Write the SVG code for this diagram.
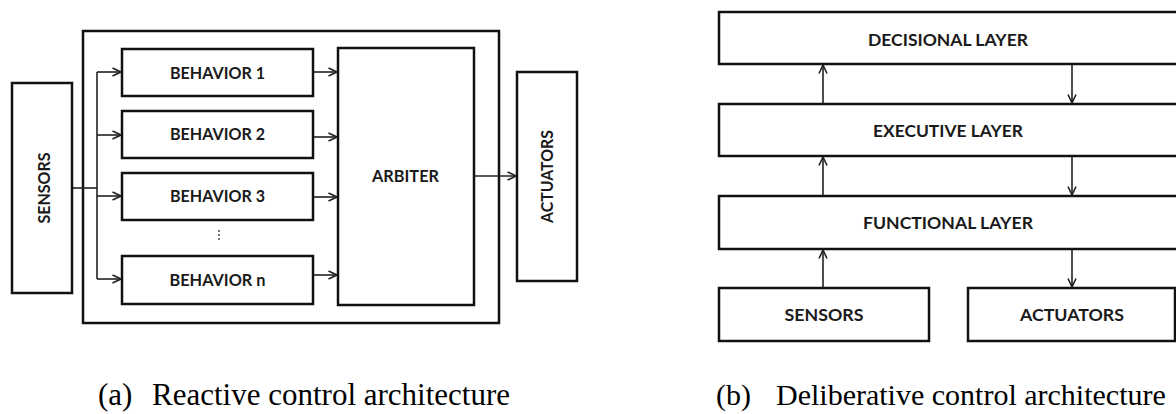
<svg xmlns="http://www.w3.org/2000/svg" width="1176" height="414" viewBox="0 0 1176 414">
<defs>
<style>
.box{fill:#fff;stroke:#111;stroke-width:2.5}
.lbl{font-family:Lato,"Liberation Sans",sans-serif;font-weight:bold;font-size:17.5px;fill:#1a1a1a;text-anchor:middle}
.cap{font-family:"Liberation Serif",serif;font-size:31px;fill:#000}
.con{fill:none;stroke:#222;stroke-width:1.6}
</style>
<marker id="ah" viewBox="0 0 10 10" refX="9.5" refY="5" markerWidth="10" markerHeight="10" markerUnits="userSpaceOnUse" orient="auto">
<path d="M1,1 L9.5,5 L1,9" fill="none" stroke="#222" stroke-width="1.6"/>
</marker>
</defs>
<rect width="1176" height="414" fill="#fff"/>

<g id="outer-reactive"><rect class="box" x="83" y="31" width="416" height="292"/></g>

<g id="connectors">
<path class="con" d="M72,188 H97"/>
<path class="con" d="M97,72 V279"/>
<path class="con" d="M97,72 H121" marker-end="url(#ah)"/>
<path class="con" d="M97,135 H121" marker-end="url(#ah)"/>
<path class="con" d="M97,196 H121" marker-end="url(#ah)"/>
<path class="con" d="M97,279 H121" marker-end="url(#ah)"/>
<path class="con" d="M313,72 H337" marker-end="url(#ah)"/>
<path class="con" d="M313,137 H337" marker-end="url(#ah)"/>
<path class="con" d="M313,197 H337" marker-end="url(#ah)"/>
<path class="con" d="M313,275 H337" marker-end="url(#ah)"/>
<path class="con" d="M474,176 H516" marker-end="url(#ah)"/>
<path class="con" d="M823,104 V65" marker-end="url(#ah)"/>
<path class="con" d="M823,196 V157" marker-end="url(#ah)"/>
<path class="con" d="M823,288 V250" marker-end="url(#ah)"/>
<path class="con" d="M1072,64 V103" marker-end="url(#ah)"/>
<path class="con" d="M1072,156 V195" marker-end="url(#ah)"/>
<path class="con" d="M1072,249 V287" marker-end="url(#ah)"/>
</g>

<g id="sensors-a"><rect class="box" x="12" y="83" width="60" height="210"/>
<text class="lbl" transform="translate(50,188) rotate(-90)" textLength="71" lengthAdjust="spacingAndGlyphs">SENSORS</text></g>

<g id="behavior1"><rect class="box" x="122" y="49" width="191" height="47"/>
<text class="lbl" x="217.5" y="79" textLength="95" lengthAdjust="spacingAndGlyphs">BEHAVIOR 1</text></g>
<g id="behavior2"><rect class="box" x="122" y="111" width="191" height="47"/>
<text class="lbl" x="217.5" y="140" textLength="95" lengthAdjust="spacingAndGlyphs">BEHAVIOR 2</text></g>
<g id="behavior3"><rect class="box" x="122" y="173" width="191" height="47"/>
<text class="lbl" x="217.5" y="202" textLength="95" lengthAdjust="spacingAndGlyphs">BEHAVIOR 3</text></g>
<g id="ellipsis" fill="#333"><circle cx="219" cy="231" r="0.9"/><circle cx="219" cy="235" r="0.9"/><circle cx="219" cy="239" r="0.9"/></g>
<g id="behaviorn"><rect class="box" x="122" y="256" width="191" height="48"/>
<text class="lbl" x="217.5" y="286" textLength="96" lengthAdjust="spacingAndGlyphs">BEHAVIOR n</text></g>

<g id="arbiter"><rect class="box" x="338" y="48" width="136" height="257"/>
<text class="lbl" x="405.5" y="182" textLength="67" lengthAdjust="spacingAndGlyphs">ARBITER</text></g>

<g id="actuators-a"><rect class="box" x="517" y="72" width="60" height="209"/>
<text class="lbl" transform="translate(553,176.5) rotate(-90)" textLength="93" lengthAdjust="spacingAndGlyphs">ACTUATORS</text></g>

<g id="decisional"><rect class="box" x="719" y="12" width="470" height="52"/>
<text class="lbl" x="948" y="46" textLength="160" lengthAdjust="spacingAndGlyphs">DECISIONAL LAYER</text></g>
<g id="executive"><rect class="box" x="719" y="104" width="470" height="52"/>
<text class="lbl" x="948" y="137" textLength="150" lengthAdjust="spacingAndGlyphs">EXECUTIVE LAYER</text></g>
<g id="functional"><rect class="box" x="719" y="196" width="470" height="53"/>
<text class="lbl" x="948" y="229" textLength="170" lengthAdjust="spacingAndGlyphs">FUNCTIONAL LAYER</text></g>
<g id="sensors-b"><rect class="box" x="719" y="288" width="210" height="53"/>
<text class="lbl" x="824" y="321" textLength="79" lengthAdjust="spacingAndGlyphs">SENSORS</text></g>
<g id="actuators-b"><rect class="box" x="968" y="288" width="207" height="53"/>
<text class="lbl" x="1072" y="321" textLength="104" lengthAdjust="spacingAndGlyphs">ACTUATORS</text></g>

<g id="captions">
<text class="cap" x="98" y="405">(a)<tspan x="152">Reactive control architecture</tspan></text>
<text class="cap" x="716" y="405" style="font-size:30px">(b)<tspan x="776">Deliberative control architecture</tspan></text>
</g>
</svg>
